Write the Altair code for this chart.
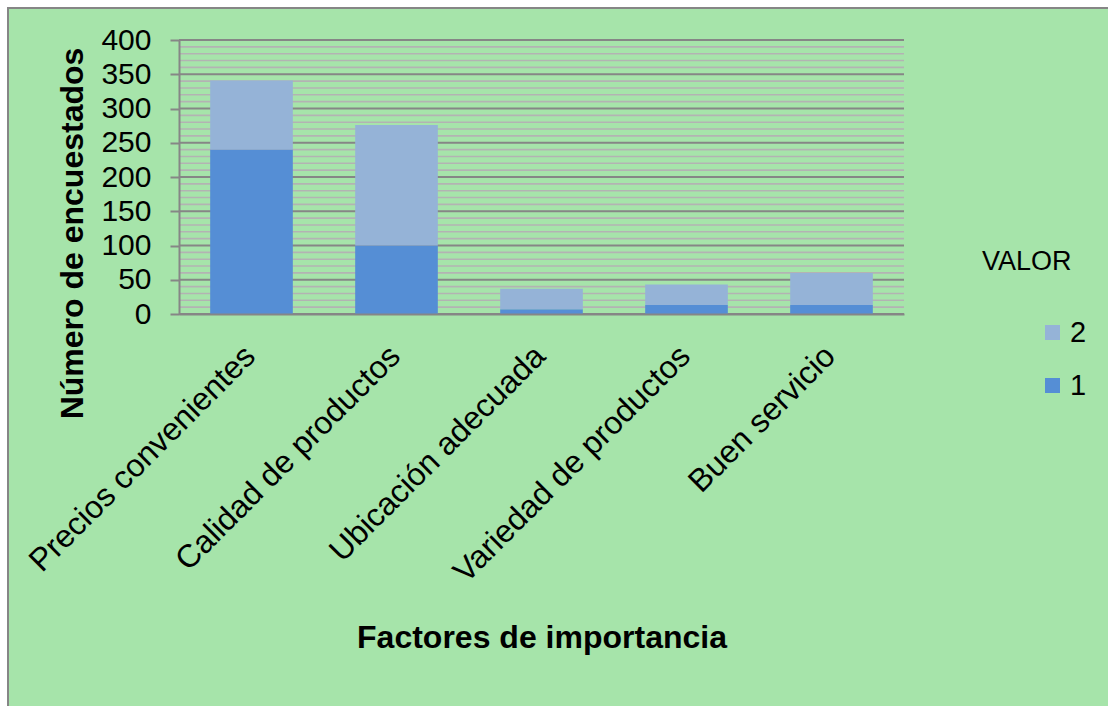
import altair as alt
import pandas as pd

categorias = ["Precios convenientes", "Calidad de productos", "Ubicación adecuada",
              "Variedad de productos", "Buen servicio"]
valor_1 = [240, 100, 7, 13, 13]
valor_2 = [101, 176, 30, 30, 47]
series = ["1", "2"]
colores = ["#558ed5", "#95b3d7"]
y_ticks = list(range(0, 401, 50))
y_minor = [v for v in range(0, 401, 10) if v % 50]

rows = []
for c, a, b in zip(categorias, valor_1, valor_2):
    rows.append({"Factor": c, "VALOR": "1", "n": a, "orden": 1})
    rows.append({"Factor": c, "VALOR": "2", "n": b, "orden": 2})
df = pd.DataFrame(rows)

W, H = 725, 274
PL, PT = 179, 40
FONT = "Liberation Sans"
GREEN = "#a6e4aa"
DARK = "#868686"

y_scale = alt.Scale(domain=[0, 400], nice=False)
y_axis = alt.Axis(title="Número de encuestados", values=y_ticks, grid=False,
                  labelFontSize=30, labelFont=FONT, labelColor="black",
                  labelPadding=19, tickSize=9, tickColor=DARK, tickWidth=2,
                  domainColor=DARK, domainWidth=2,
                  titleFont=FONT, titleFontSize=32, titleFontWeight="bold",
                  titleColor="black", titleAngle=-90, titleX=-107, titleY=193,
                  titleAlign="center", titleBaseline="middle", zindex=1)

frame = alt.Chart(pd.DataFrame({"k": [0]})).mark_rect(
    fill=GREEN, stroke=DARK, strokeWidth=2
).encode(
    x=alt.value(8 - PL), x2=alt.value(1108 - PL + 20),
    y=alt.value(8 - PT), y2=alt.value(706 - PT + 20)
)

minor = alt.Chart(pd.DataFrame({"n": y_minor})).mark_rule(
    color="#b3b3b3", strokeWidth=1.6
).encode(y=alt.Y("n:Q", scale=y_scale, axis=y_axis))

major = alt.Chart(pd.DataFrame({"n": y_ticks})).mark_rule(
    color=DARK, strokeWidth=2
).encode(y=alt.Y("n:Q", scale=y_scale, axis=y_axis))

bars = alt.Chart(df).mark_bar().encode(
    x=alt.X("Factor:N", sort=categorias,
            scale=alt.Scale(paddingInner=0.43, paddingOuter=0.215),
            axis=alt.Axis(title="Factores de importancia", labelAngle=-45,
                          labelFontSize=32, labelFont=FONT, labelColor="black",
                          labelLimit=0, labelPadding=26, labelOffset=-12, ticks=False,
                          domain=True, domainColor=DARK, domainWidth=2,
                          titleFont=FONT, titleFontSize=32, titleFontWeight="bold",
                          titleColor="black", titleY=323, titleBaseline="middle",
                          zindex=1)),
    y=alt.Y("n:Q", stack="zero", scale=y_scale, axis=y_axis),
    color=alt.Color("VALOR:N", scale=alt.Scale(domain=series, range=colores),
                    legend=alt.Legend(title=None, values=["2", "1"], orient="none",
                                      legendX=1038 - PL, legendY=318 - PT,
                                      symbolType="square", symbolSize=225,
                                      symbolStrokeWidth=0, labelFont=FONT,
                                      labelFontSize=29, labelColor="black",
                                      labelOffset=3, rowPadding=23, padding=0)),
    order=alt.Order("orden:Q", sort="ascending"),
)

titulo_leyenda = alt.Chart(pd.DataFrame({"t": ["VALOR"]})).mark_text(
    align="left", baseline="middle", font=FONT, fontSize=27, color="black"
).encode(x=alt.value(982 - PL), y=alt.value(262 - PT), text="t:N")

chart = alt.layer(frame, minor, major, bars, titulo_leyenda).properties(
    width=W, height=H,
    autosize=alt.AutoSizeParams(type="none"),
    padding={"left": PL, "top": PT, "right": 1108 - PL - W, "bottom": 706 - PT - H},
    background="white",
).configure_view(strokeWidth=0)

chart.save("out.html", embed_options={"renderer": "svg", "actions": False})
